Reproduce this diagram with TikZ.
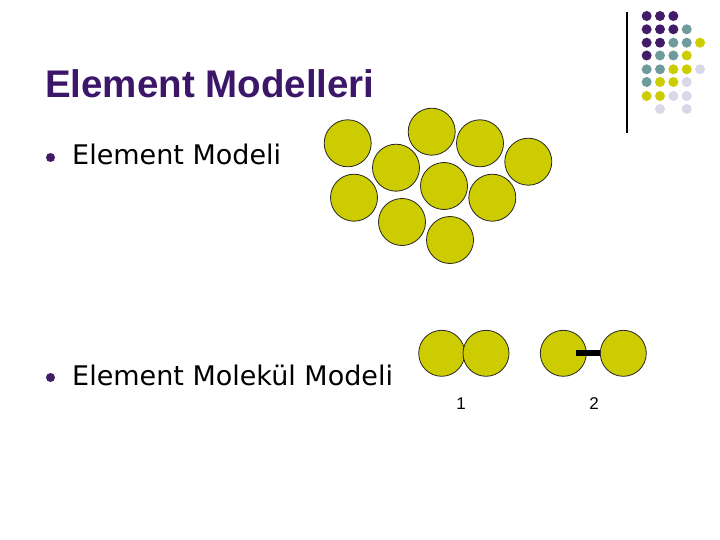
\documentclass[tikz,border=0pt]{standalone}
\usepackage{fontspec}
\setmainfont{Liberation Sans}
\newfontfamily\bodyfont{DejaVu Sans}
\definecolor{titlePurple}{RGB}{60,22,104}
\definecolor{dotP}{RGB}{66,28,102}
\definecolor{dotT}{RGB}{110,155,155}
\definecolor{dotY}{RGB}{204,204,0}
\definecolor{dotL}{RGB}{216,216,232}
\definecolor{atomFill}{RGB}{204,204,0}
\begin{document}
\begin{tikzpicture}[x=1pt, y=-1pt,
    atom/.style={circle, draw=black!85, line width=0.8pt, fill=atomFill, minimum size=47pt, inner sep=0pt},
    pair/.style={atom, minimum size=46pt},
    bullettext/.style={anchor=base west, inner sep=0pt, font=\bodyfont\fontsize{27}{31}\selectfont},
    bond/.style={line width=6pt, line cap=butt}]
    \useasboundingbox (0,0) rectangle (720,540);

    % 1. Başlık ve maddeler
    \node[anchor=base west, inner sep=0pt, text=titlePurple, font=\bfseries\fontsize{38.5}{44}\selectfont] (title) at (45,98) {Element Modelleri};
    \fill[dotP] (50.5,157.5) circle (4.5pt);
    \node[bullettext] (item1) at (72,165) {Element Modeli};
    \fill[dotP] (50.5,377.5) circle (4.5pt);
    \node[bullettext] (item2) at (72,385) {Element Molekül Modeli};

    % 2. Sağ üst köşedeki süs (çizgi ve nokta matrisi)
    \draw[line width=1.3pt] (627,12) -- (627,133);
    \foreach \k [count=\c] in {dotP,dotP,dotP} \fill[\k] (633.3+13.35*\c,16) circle (5pt);
    \foreach \k [count=\c] in {dotP,dotP,dotP,dotT} \fill[\k] (633.3+13.35*\c,29.3) circle (5pt);
    \foreach \k [count=\c] in {dotP,dotP,dotT,dotT,dotY} \fill[\k] (633.3+13.35*\c,42.7) circle (5pt);
    \foreach \k [count=\c] in {dotP,dotT,dotT,dotY} \fill[\k] (633.3+13.35*\c,55.5) circle (5pt);
    \foreach \k [count=\c] in {dotT,dotT,dotY,dotY,dotL} \fill[\k] (633.3+13.35*\c,69.3) circle (5pt);
    \foreach \k [count=\c] in {dotT,dotY,dotY,dotL} \fill[\k] (633.3+13.35*\c,82) circle (5pt);
    \foreach \k [count=\c] in {dotY,dotY,dotL,dotL} \fill[\k] (633.3+13.35*\c,96) circle (5pt);
    \foreach \k [count=\c] in {none,dotL,none,dotL} \fill[fill=\k] (633.3+13.35*\c,109) circle (5pt);

    % 3. Element modeli: tek tek atomlar
    \node[atom] (a1) at (347.7,143.3) {};
    \node[atom] (a2) at (431.7,131.7) {};
    \node[atom] (a3) at (480,143.3) {};
    \node[atom] (a4) at (528.3,161.7) {};
    \node[atom] (a5) at (396,167.7) {};
    \node[atom] (a6) at (444,186) {};
    \node[atom] (a7) at (492.3,197.7) {};
    \node[atom] (a8) at (354,197.7) {};
    \node[atom] (a9) at (402,222) {};
    \node[atom] (a10) at (450,240) {};

    % 4. Molekül modeli: 1 bitişik, 2 bağlı
    \node[pair] (m1a) at (441.7,353.3) {};
    \node[pair] (m1b) at (486,353.3) {};
    \node[pair] (m2a) at (563.3,353.3) {};
    \node[pair] (m2b) at (623.3,353.3) {};
    \draw[bond] ([xshift=13pt]m2a.center) -- (m2b.west);
    \node[font=\fontsize{17}{20}\selectfont] (lab1) at (461,404) {1};
    \node[font=\fontsize{17}{20}\selectfont] (lab2) at (594,404) {2};
\end{tikzpicture}
\end{document}
